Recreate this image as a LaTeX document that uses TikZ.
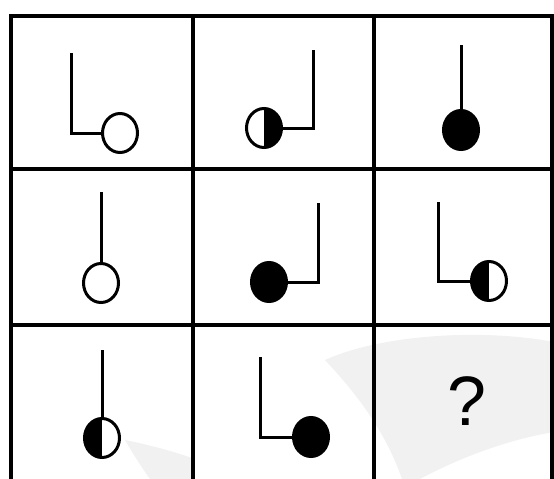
\documentclass[tikz,border=0pt]{standalone}
\usepackage{fontspec}
\setmainfont{Liberation Sans}
\usetikzlibrary{shapes.geometric}
\tikzset{
  grid/.style={line width=3.4pt, line cap=rect},
  stem/.style={line width=3pt, line join=miter},
  ball/.style={ellipse, draw, line width=3pt, minimum width=35pt, minimum height=39pt, inner sep=0pt, fill=white},
  full/.style={ball, fill=black},
  halfR/.style={ball, path picture={\fill[black] (path picture bounding box.north) rectangle (path picture bounding box.south east);}},
  halfL/.style={ball, path picture={\fill[black] (path picture bounding box.south west) rectangle (path picture bounding box.north);}},
  qmark/.style={font=\fontsize{70}{70}\selectfont}
}
\begin{document}
\begin{tikzpicture}[x=1pt,y=-1pt]
\useasboundingbox (0,0) rectangle (554,479);
\fill[white] (0,0) rectangle (554,479);
% faint watermark
\fill[gray!11] (325,360) .. controls (380,335) and (480,328) .. (554,342) -- (554,432) .. controls (505,440) and (455,460) .. (420,479) -- (402,479) .. controls (385,430) and (355,392) .. (325,360) -- cycle;
\fill[gray!11] (125,440) .. controls (150,445) and (175,452) .. (192,458) -- (192,479) -- (150,479) .. controls (140,465) and (132,452) .. (125,440) -- cycle;
% grid
\draw[grid] (11,16) rectangle (552,490);
\draw[grid] (193,16) -- (193,490) (374,16) -- (374,490);
\draw[grid] (11,169) -- (552,169) (11,325) -- (552,325);
% row 1
\node[ball] (c11) at (120,133) {};
\coordinate (t11) at (71,53); \coordinate (k11) at (71,133);
\draw[stem] (t11) -- (k11) -- (c11.west);
\node[halfR] (c12) at (264,128) {};
\coordinate (t12) at (313,50); \coordinate (k12) at (313,128);
\draw[stem] (c12.east) -- (k12) -- (t12);
\node[full] (c13) at (461,130) {};
\coordinate (t13) at (461,45);
\draw[stem] (t13) -- (c13.north);
% row 2
\node[ball] (c21) at (101,283) {};
\coordinate (t21) at (101,192);
\draw[stem] (t21) -- (c21.north);
\node[full] (c22) at (269,282) {};
\coordinate (t22) at (318,203); \coordinate (k22) at (318,282);
\draw[stem] (c22.east) -- (k22) -- (t22);
\node[halfL] (c23) at (489,281) {};
\coordinate (t23) at (438,202); \coordinate (k23) at (438,281);
\draw[stem] (t23) -- (k23) -- (c23.west);
% row 3
\node[halfL] (c31) at (102,438) {};
\coordinate (t31) at (102,350);
\draw[stem] (t31) -- (c31.north);
\node[full] (c32) at (311,437) {};
\coordinate (t32) at (260,357); \coordinate (k32) at (260,437);
\draw[stem] (t32) -- (k32) -- (c32.west);
\node[qmark] (q) at (467,401) {?};
\end{tikzpicture}
\end{document}
